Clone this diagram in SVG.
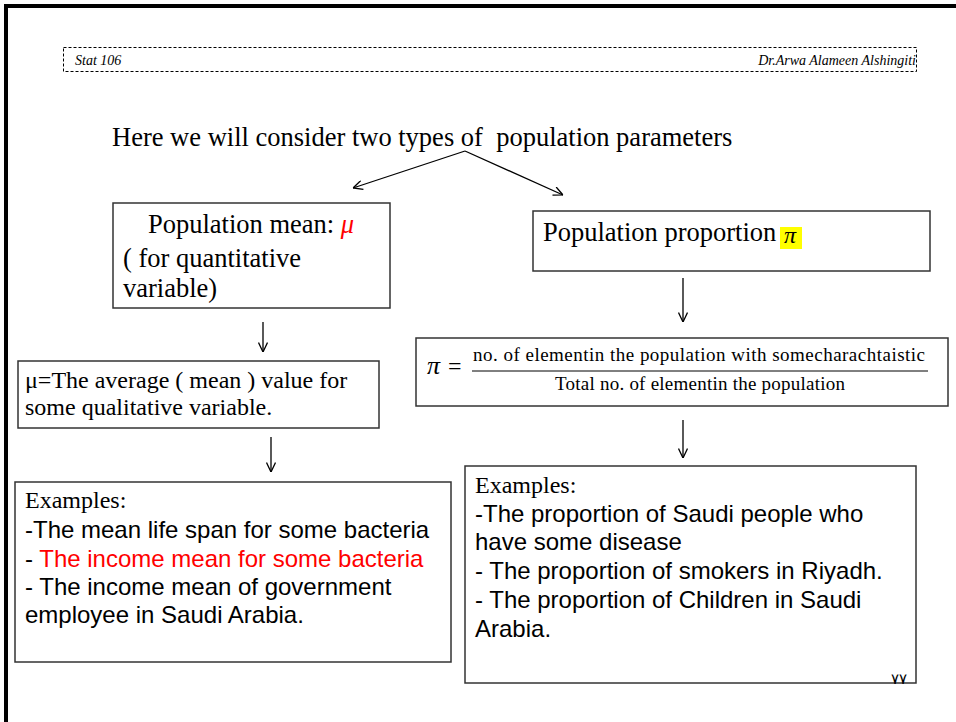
<svg xmlns="http://www.w3.org/2000/svg" width="956" height="722" viewBox="0 0 956 722">
<style>
.serif{font-family:"Liberation Serif","Times New Roman",serif;fill:#000}
.sans{font-family:"Liberation Sans",Arial,sans-serif;fill:#000}
.box{fill:#fff;stroke:#333;stroke-width:1.5}
.conn{fill:none;stroke:#000;stroke-width:1.3}
</style>
<defs>
<marker id="ah" viewBox="0 0 10 10" refX="10" refY="5" markerWidth="10" markerHeight="10" markerUnits="userSpaceOnUse" orient="auto">
<path d="M0.5,0.5 L10,5 L0.5,9.5" fill="none" stroke="#000" stroke-width="1.3"/>
</marker>
</defs>
<rect width="956" height="722" fill="#fff"/>
<path d="M6,730 V6 H960" fill="none" stroke="#000" stroke-width="4"/>
<g id="header">
<rect x="63.5" y="47.5" width="853" height="24" fill="none" stroke="#000" stroke-width="1" stroke-dasharray="3,2"/>
<text class="serif" x="75" y="65" font-size="14" font-style="italic">Stat 106</text>
<text class="serif" x="916" y="65" font-size="14" font-style="italic" text-anchor="end">Dr.Arwa Alameen Alshingiti</text>
</g>
<g id="title">
<text class="serif" x="112" y="146" font-size="26.5" style="white-space:pre">Here we will consider two types of  population parameters</text>
</g>
<g id="connectors">
<line class="conn" x1="465" y1="151" x2="353" y2="188" marker-end="url(#ah)"/>
<line class="conn" x1="465" y1="151" x2="563" y2="195" marker-end="url(#ah)"/>
<line class="conn" x1="263" y1="322" x2="263" y2="352" marker-end="url(#ah)"/>
<line class="conn" x1="271" y1="437" x2="271" y2="472" marker-end="url(#ah)"/>
<line class="conn" x1="683" y1="278" x2="683" y2="322" marker-end="url(#ah)"/>
<line class="conn" x1="683" y1="420" x2="683" y2="458" marker-end="url(#ah)"/>
</g>
<g id="mean">
<rect class="box" x="113" y="203" width="277" height="105"/>
<text class="serif" x="148" y="233" font-size="26.5">Population mean: <tspan fill="#ff0000" font-style="italic">μ</tspan></text>
<text class="serif" x="123" y="267" font-size="26.5">( for quantitative</text>
<text class="serif" x="123" y="297" font-size="26.5">variable)</text>
</g>
<g id="proportion">
<rect class="box" x="533" y="211" width="397" height="60"/>
<text class="serif" x="543" y="241" font-size="26.5">Population proportion</text>
<rect x="780" y="227" width="22" height="22" fill="#ffff00"/>
<text class="serif" x="784" y="243" font-size="24" font-style="italic">π</text>
</g>
<g id="mean-def">
<rect class="box" x="18" y="361" width="361" height="67"/>
<text class="serif" x="25" y="388" font-size="24">μ=The average ( mean ) value for</text>
<text class="serif" x="25" y="415" font-size="24">some qualitative variable.</text>
</g>
<g id="formula">
<rect class="box" x="416" y="338" width="532" height="68"/>
<text class="serif" x="427" y="374" font-size="26" font-style="italic">π</text>
<text class="serif" x="448" y="374" font-size="24">=</text>
<text class="serif" x="473" y="361" font-size="19" textLength="452" lengthAdjust="spacing">no. of elementin the population with somecharachtaistic</text>
<line x1="472" y1="371" x2="928" y2="371" stroke="#000" stroke-width="1"/>
<text class="serif" x="555" y="390" font-size="19" textLength="290" lengthAdjust="spacing">Total no. of elementin the population</text>
</g>
<g id="mean-examples">
<rect class="box" x="15" y="482" width="436" height="180"/>
<text class="serif" x="25" y="508" font-size="24">Examples:</text>
<text class="sans" x="25" y="538" font-size="24">-The mean life span for some bacteria</text>
<text class="sans" x="25" y="567" font-size="24">- <tspan fill="#ff0000">The income mean for some bacteria</tspan></text>
<text class="sans" x="25" y="595" font-size="24">- The income mean of government</text>
<text class="sans" x="25" y="623" font-size="24">employee in Saudi Arabia.</text>
</g>
<g id="proportion-examples">
<rect class="box" x="465" y="466" width="451" height="217"/>
<text class="serif" x="475" y="493" font-size="24">Examples:</text>
<text class="sans" x="475" y="522" font-size="24">-The proportion of Saudi people who</text>
<text class="sans" x="475" y="550" font-size="24">have some disease</text>
<text class="sans" x="475" y="579" font-size="24">- The proportion of smokers in Riyadh.</text>
<text class="sans" x="475" y="608" font-size="24">- The proportion of Children in Saudi</text>
<text class="sans" x="475" y="637" font-size="24">Arabia.</text>
<text x="891" y="684" font-size="15" font-family="'DejaVu Sans','Noto Sans',sans-serif" fill="#000">٧٧</text>
</g>
</svg>
